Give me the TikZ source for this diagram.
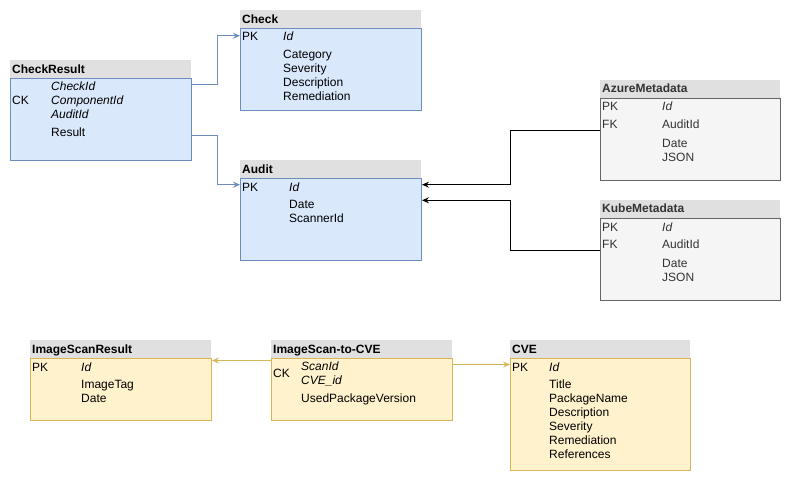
\documentclass[tikz,border=0pt]{standalone}
\usepackage{fontspec}
\setmainfont{Liberation Sans}
\usetikzlibrary{arrows.meta}

\definecolor{bluefill}{HTML}{DAE8FC}
\definecolor{bluedraw}{HTML}{6C8EBF}
\definecolor{greyfill}{HTML}{F5F5F5}
\definecolor{greydraw}{HTML}{666666}
\definecolor{yelfill}{HTML}{FFF2CC}
\definecolor{yeldraw}{HTML}{D6B656}
\definecolor{headfill}{HTML}{E0E0E0}
\definecolor{greytext}{HTML}{333333}

\tikzset{
	hdr/.style={fill=headfill, anchor=north west, inner sep=0pt, minimum height=18pt},
	bluebox/.style={draw=bluedraw, fill=bluefill, anchor=north west, inner sep=0pt, line width=1pt},
	greybox/.style={draw=greydraw, fill=greyfill, anchor=north west, inner sep=0pt, line width=1pt},
	yelbox/.style={draw=yeldraw, fill=yelfill, anchor=north west, inner sep=0pt, line width=1pt},
	fld/.style={anchor=west, inner sep=0pt, text height=8.6pt, text depth=0pt},
	ttl/.style={fld, font=\fontsize{12}{14}\selectfont\bfseries},
	blink/.style={->, draw=bluedraw, line width=1pt},
	klink/.style={->, draw=black, line width=1pt},
	ylink/.style={->, draw=yeldraw, line width=1pt}
}

\begin{document}
\begin{tikzpicture}[x=1pt, y=-1pt, font=\fontsize{12}{14}\selectfont,
		>={Stealth[length=7pt, width=6pt, inset=2.5pt]}]
	\useasboundingbox (0,0) rectangle (791,481);

	% Check
	\node[hdr, minimum width=181pt] (chkH) at (240,10) {};
	\node[bluebox, minimum width=181pt, minimum height=82pt] (chkB) at (240,28) {};
	\node[ttl] (chkT) at (242,19) {Check};
	\node[fld] (chkK) at (242,36.7) {PK};
	\node[fld] (chkId) at (283,36.7) {\itshape Id};
	\foreach \f [count=\i] in {Category,Severity,Description,Remediation}
		\node[fld] (chkF\i) at (283,40.3+14*\i) {\f};

	% CheckResult
	\node[hdr, minimum width=181pt] (crH) at (10,60) {};
	\node[bluebox, minimum width=181pt, minimum height=82pt] (crB) at (10,78) {};
	\node[ttl] (crT) at (12,69) {CheckResult};
	\node[fld] (crK) at (12,100.5) {CK};
	\foreach \f [count=\i] in {CheckId,ComponentId,AuditId}
		\node[fld] (crF\i) at (51,72.5+14*\i) {\itshape \f};
	\node[fld] (crR) at (51,132.3) {Result};

	% Audit
	\node[hdr, minimum width=181pt] (audH) at (240,160) {};
	\node[bluebox, minimum width=181pt, minimum height=82pt] (audB) at (240,178) {};
	\node[ttl] (audT) at (242,169) {Audit};
	\node[fld] (audK) at (242,186.7) {PK};
	\node[fld] (audId) at (289,186.7) {\itshape Id};
	\node[fld] (audD) at (289,204.3) {Date};
	\node[fld] (audS) at (289,218.5) {ScannerId};

	% AzureMetadata
	\node[hdr, minimum width=180pt] (azH) at (600,80) {};
	\node[greybox, minimum width=180pt, minimum height=82pt] (azB) at (600,98) {};
	\begin{scope}[every node/.append style={text=greytext}]
		\node[ttl] (azT) at (602,88.3) {AzureMetadata};
		\node[fld] (azK) at (602,106.7) {PK};
		\node[fld] (azId) at (662,106.7) {\itshape Id};
		\node[fld] (azFK) at (602,124.3) {FK};
		\node[fld] (azA) at (662,124.3) {AuditId};
		\node[fld] (azD) at (662,142.7) {Date};
		\node[fld] (azJ) at (662,157) {JSON};
	\end{scope}

	% KubeMetadata
	\node[hdr, minimum width=180pt] (kuH) at (600,200) {};
	\node[greybox, minimum width=180pt, minimum height=82pt] (kuB) at (600,218) {};
	\begin{scope}[every node/.append style={text=greytext}]
		\node[ttl] (kuT) at (602,208.3) {KubeMetadata};
		\node[fld] (kuK) at (602,226.7) {PK};
		\node[fld] (kuId) at (662,226.7) {\itshape Id};
		\node[fld] (kuFK) at (602,244.3) {FK};
		\node[fld] (kuA) at (662,244.3) {AuditId};
		\node[fld] (kuD) at (662,262.7) {Date};
		\node[fld] (kuJ) at (662,277) {JSON};
	\end{scope}

	% ImageScanResult
	\node[hdr, minimum width=181pt] (isrH) at (30,340) {};
	\node[yelbox, minimum width=181pt, minimum height=62pt] (isrB) at (30,358) {};
	\node[ttl] (isrT) at (32,349) {ImageScanResult};
	\node[fld] (isrK) at (32,366.7) {PK};
	\node[fld] (isrId) at (81,366.7) {\itshape Id};
	\node[fld] (isrG) at (81,384.3) {ImageTag};
	\node[fld] (isrD) at (81,398.5) {Date};

	% ImageScan-to-CVE
	\node[hdr, minimum width=181pt] (iscH) at (271,340) {};
	\node[yelbox, minimum width=181pt, minimum height=62pt] (iscB) at (271,358) {};
	\node[ttl] (iscT) at (273,349) {ImageScan-to-CVE};
	\node[fld] (iscK) at (273,373.3) {CK};
	\node[fld] (iscF1) at (301,366.5) {\itshape ScanId};
	\node[fld] (iscF2) at (301,380.5) {\itshape CVE\_id};
	\node[fld] (iscU) at (301,398.5) {UsedPackageVersion};

	% CVE
	\node[hdr, minimum width=180pt] (cveH) at (510,340) {};
	\node[yelbox, minimum width=180pt, minimum height=112pt] (cveB) at (510,358) {};
	\node[ttl] (cveT) at (512,349) {CVE};
	\node[fld] (cveK) at (512,366.7) {PK};
	\node[fld] (cveId) at (549,366.7) {\itshape Id};
	\foreach \f [count=\i] in {Title,PackageName,Description,Severity,Remediation,References}
		\node[fld] (cveF\i) at (549,370.3+14*\i) {\f};

	% links
	\draw[blink] ([yshift=2pt]crB.east |- crF1) -- ++(25,0) |- ([yshift=1pt]chkB.west |- chkK);
	\draw[blink] ([yshift=-3pt]crB.east |- crR) -- ++(25,0) |- ([yshift=2pt]audB.west |- audK);
	\draw[klink] ([yshift=-6pt]azB.west |- azFK) -- ++(-90,0) |- ([yshift=2pt]audB.east |- audK);
	\draw[klink] ([yshift=-6pt]kuB.west |- kuFK) -- ++(-90,0) |- ([yshift=4pt]audB.east |- audD);
	\draw[ylink] ([yshift=6pt]iscB.west |- iscF1) -- ([yshift=6pt]isrB.east |- iscF1);
	\draw[ylink] ([yshift=2pt]iscB.east |- iscF1) -- ([yshift=2pt]cveB.west |- iscF1);
\end{tikzpicture}
\end{document}
